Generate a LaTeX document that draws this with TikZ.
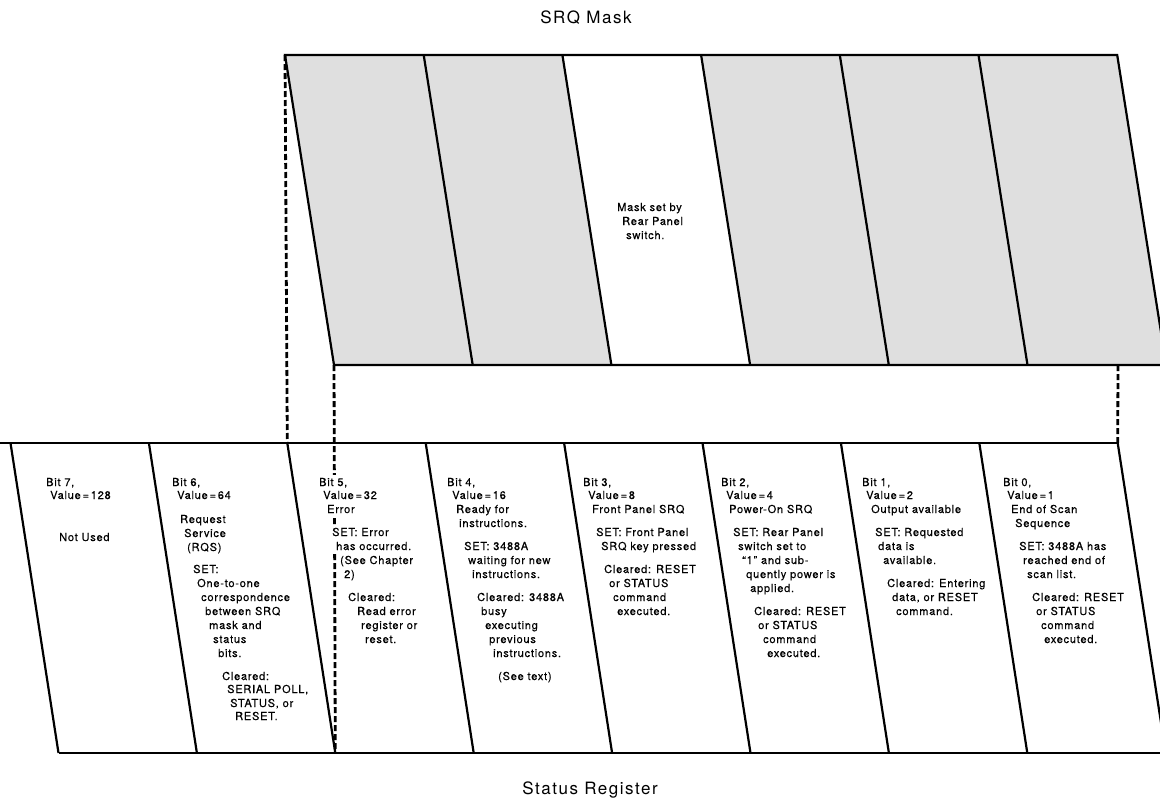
\documentclass[tikz,border=0pt]{standalone}
\usepackage{fontspec}
\setmainfont{TeX Gyre Heros}
\newfontfamily\manfont[LetterSpace=7,FakeBold=0.35]{TeX Gyre Heros}
\newfontfamily\headfont[LetterSpace=9]{TeX Gyre Heros}

\tikzset{
  bitline/.style={line width=2.2pt},
  proj/.style={line width=2.8pt, dash pattern=on 6pt off 3pt},
  txt/.style={anchor=base west, fill=white, inner xsep=3pt, inner ysep=3pt, xshift=-3pt,
    font=\manfont\fontsize{11}{13}\selectfont},
  title/.style={font=\headfont\fontsize{17}{20}\selectfont}
}

\begin{document}
\begin{tikzpicture}[x=1pt, y=-1pt]
      \useasboundingbox (0,0) rectangle (1160,809);
      % corners of the mask and of the register
      \foreach \i in {0,...,6} {
        \coordinate (mt\i) at (285+138.7*\i, 55);
        \coordinate (mb\i) at (334+138.7*\i, 365);
      }
      \foreach \i in {0,...,8} {
        \coordinate (rt\i) at (10.5+138.4*\i, 443);
        \coordinate (rb\i) at (58.5+138.4*\i, 753);
      }
      \coordinate (rl) at (0,443);
      \coordinate (mr) at (1118,365);
      % SRQ mask
      \fill[gray!25] (mt0) -- (mt6) -- (mb6) -- (mb0) -- cycle;
      \fill[white] (mt2) -- (mt3) -- (mb3) -- (mb2) -- cycle;
      \foreach \i in {1,...,5} { \draw[bitline] (mt\i) -- (mb\i); }
      \draw[bitline] (mt0) -- (mt6) -- (mb6) -- (mb0) -- cycle;
      % status register
      \draw[bitline] (rl) -- (rt8);
      \draw[bitline] (rb0) -- (rb8);
      \foreach \i in {0,...,8} { \draw[bitline] (rt\i) -- (rb\i); }
      % projection of the mask onto the register
      \draw[proj] (mt0) -- (rt2);
      \draw[proj] (mb0) -- (rb2);
      \draw[proj] (mr) -- (rt8);
      \node[title] (masktitle) at (586,18) {SRQ Mask};
      \node[title] (regtitle) at (590,790) {Status Register};
      \foreach \x/\y/\t [count=\k] in {617/211/{Mask set by}, 622/225/{Rear Panel}, 626/239/switch.} {
        \node[txt] (mask-\k) at (\x,\y) {\t};
      }
      % bit 7
      \foreach \x/\y/\t [count=\k] in {46/486/{Bit 7,}, 50/499/{Value\,=\,128}, 59/541/{Not Used}} {
        \node[txt] (bitseven-\k) at (\x,\y) {\t};
      }
      % bit 6
      \foreach \x/\y/\t [count=\k] in {172/486/{Bit 6,}, 177/499/{Value\,=\,64}, 180/523/Request,
          184/537/Service, 187/551/(RQS), 193/573/SET:, 197/587/One-to-one, 201/601/correspondence,
          205/615/{between SRQ}, 209/629/{mask and}, 213/643/status, 218/657/bits., 222/680/Cleared:,
          227/693/{SERIAL POLL,}, 230/707/{STATUS, or}, 235/720/RESET.} {
        \node[txt] (bitsix-\k) at (\x,\y) {\t};
      }
      % bit 5
      \foreach \x/\y/\t [count=\k] in {319/486/{Bit 5,}, 323/499/{Value\,=\,32}, 327/513/Error,
          332/536/{SET: Error}, 336/550/{has occurred.}, 340/564/{(See Chapter}, 344/578/2),
          348/601/Cleared:, 357/615/{Read error}, 361/629/{register or}, 365/643/reset.} {
        \node[txt] (bitfive-\k) at (\x,\y) {\t};
      }
      % bit 4
      \foreach \x/\y/\t [count=\k] in {447/486/{Bit 4,}, 452/499/{Value\,=\,16}, 456/513/{Ready for},
          459/527/instructions., 464/550/{SET: 3488A}, 468/564/{waiting for new}, 472/578/instructions.,
          477/601/{Cleared: 3488A}, 481/615/busy, 485/629/executing, 489/643/previous,
          493/657/instructions., 498/680/{(See text)}} {
        \node[txt] (bitfour-\k) at (\x,\y) {\t};
      }
      % bit 3
      \foreach \x/\y/\t [count=\k] in {583/486/{Bit 3,}, 588/499/{Value\,=\,8}, 592/513/{Front Panel SRQ},
          596/536/{SET: Front Panel}, 601/550/{SRQ key pressed}, 604/573/{Cleared: RESET},
          609/587/{or STATUS}, 613/601/command, 617/615/executed.} {
        \node[txt] (bitthree-\k) at (\x,\y) {\t};
      }
      % bit 2
      \foreach \x/\y/\t [count=\k] in {721/486/{Bit 2,}, 726/499/{Value\,=\,4}, 729/513/{Power-On SRQ},
          733/536/{SET: Rear Panel}, 738/550/{switch set to}, 742/564/{“1” and sub-},
          746/578/{quently power is}, 750/592/applied., 754/615/{Cleared: RESET}, 758/629/{or STATUS},
          763/643/command, 767/657/executed.} {
        \node[txt] (bittwo-\k) at (\x,\y) {\t};
      }
      % bit 1
      \foreach \x/\y/\t [count=\k] in {862/486/{Bit 1,}, 866/499/{Value\,=\,2}, 871/513/{Output available},
          875/536/{SET: Requested}, 878/550/{data is}, 883/564/available., 887/587/{Cleared: Entering},
          892/601/{data, or RESET}, 896/615/command.} {
        \node[txt] (bitone-\k) at (\x,\y) {\t};
      }
      % bit 0
      \foreach \x/\y/\t [count=\k] in {1003/486/{Bit 0,}, 1007/499/{Value\,=\,1}, 1011/513/{End of Scan},
          1015/527/Sequence, 1019/550/{SET: 3488A has}, 1023/564/{reached end of}, 1027/578/{scan list.},
          1032/601/{Cleared: RESET}, 1036/615/{or STATUS}, 1041/629/command, 1044/643/executed.} {
        \node[txt] (bitzero-\k) at (\x,\y) {\t};
      }
    \end{tikzpicture}
\end{document}
